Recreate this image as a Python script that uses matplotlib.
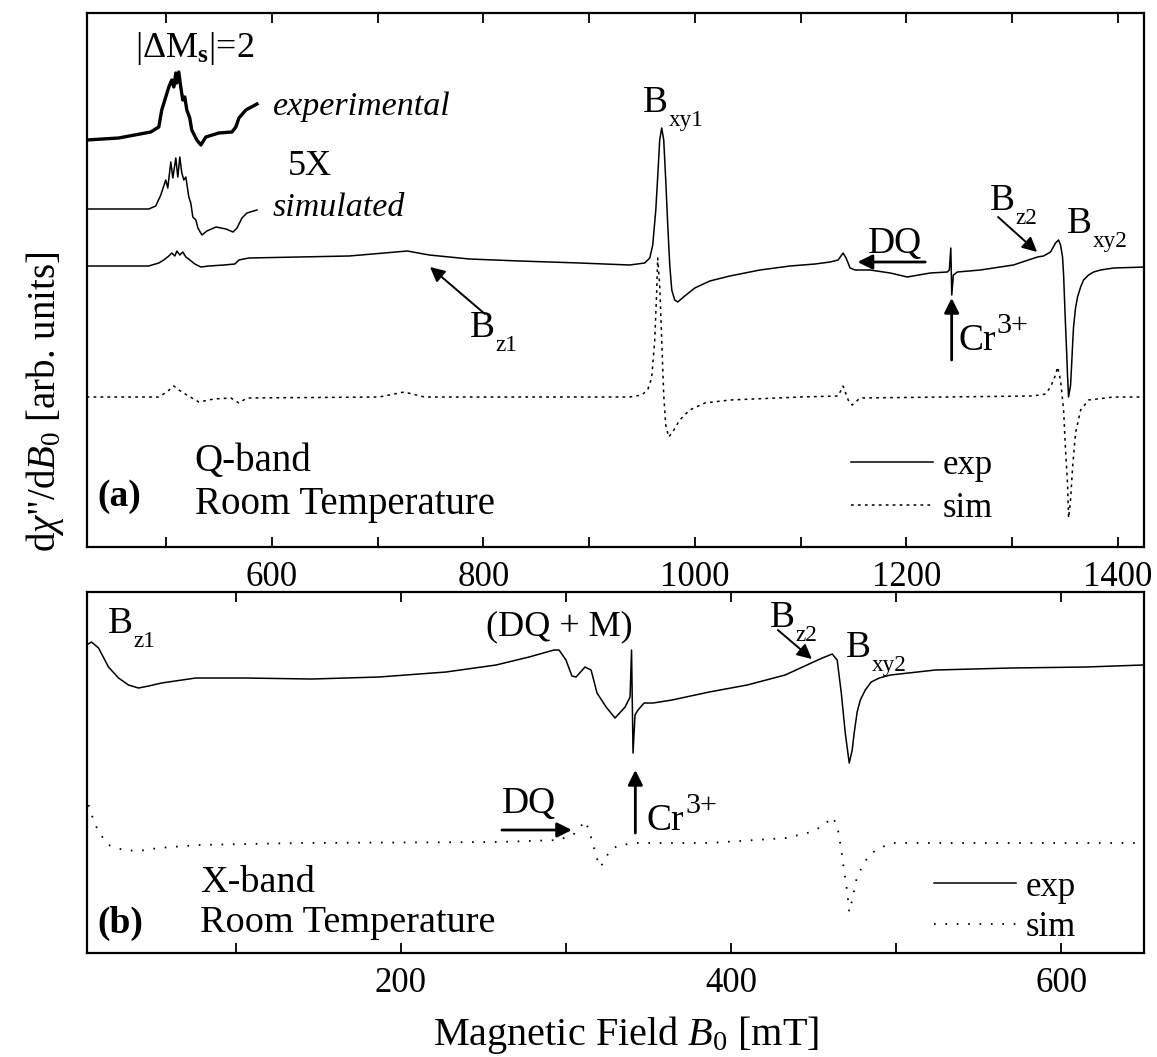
import matplotlib
matplotlib.use('Agg')
import matplotlib.pyplot as plt
from matplotlib.ticker import MultipleLocator

plt.rcParams['font.family'] = 'Liberation Serif'
plt.rcParams['mathtext.fontset'] = 'custom'
plt.rcParams['mathtext.rm'] = 'Liberation Serif'
plt.rcParams['mathtext.it'] = 'Liberation Serif:italic'
plt.rcParams['mathtext.bf'] = 'Liberation Serif:bold'
plt.rcParams['lines.scale_dashes'] = False

# ---- Q-band, |dMs|=2 half-field region (shown 5x) ----
half_exp_field = [424.6, 454.9, 485.3, 492.9, 495.7, 499.5, 502.4, 505.2, 507.1, 509.0,
                  509.9, 511.8, 513.7, 515.6, 517.5, 519.4, 522.2, 524.1, 528.9, 532.7,
                  537.4, 549.7, 562.1, 565.8, 568.7, 575.3, 585.8]
half_exp = [0.0, 0.02, 0.08, 0.13, 0.30, 0.43, 0.53, 0.60, 0.53, 0.67,
            0.57, 0.68, 0.53, 0.40, 0.43, 0.30, 0.22, 0.10, 0.00, -0.05,
            0.03, 0.07, 0.08, 0.13, 0.22, 0.30, 0.36]

half_sim_field = [424.6, 483.4, 490.0, 494.8, 497.6, 499.5, 501.4, 504.3, 506.2, 509.0,
                  510.9, 512.8, 514.7, 516.6, 518.5, 521.3, 523.2, 525.1, 528.0, 529.9,
                  533.7, 538.4, 547.0, 556.5, 563.1, 566.9, 571.6, 576.3, 585.8]
half_sim = [0.0, 0.0, 0.03, 0.14, 0.23, 0.29, 0.21, 0.47, 0.31, 0.51,
            0.32, 0.52, 0.36, 0.29, 0.32, 0.12, 0.06, -0.08, -0.11, -0.19,
            -0.26, -0.22, -0.18, -0.20, -0.23, -0.19, -0.09, -0.04, -0.01]

# ---- Q-band full spectrum ----
q_exp_field = [424.6, 483.4, 492.9, 497.6, 502.4, 505.2, 508.1, 510.0, 512.8, 515.6,
               518.5, 522.3, 527.0, 532.7, 540.3, 554.5, 564.9, 568.7, 578.2, 625.6,
               673.0, 706.2, 728.0, 748.8, 786.7, 834.1, 891.0, 938.4, 952.6, 957.4,
               960.2, 963.1, 965.0, 966.8, 968.7, 970.6, 972.5, 974.4, 976.3, 978.2,
               981.0, 983.8, 990.5, 1000.0, 1014.2, 1033.2, 1061.6, 1090.1, 1113.8, 1128.0,
               1135.6, 1140.3, 1143.1, 1146.9, 1151.7, 1165.9, 1184.9, 1201.0, 1222.8, 1238.9,
               1240.8, 1242.2, 1243.1, 1244.6, 1248.4, 1270.2, 1301.4, 1324.2, 1329.9, 1336.5,
               1341.3, 1344.1, 1346.0, 1347.9, 1348.9, 1349.8, 1350.7, 1351.7, 1352.6, 1353.6,
               1355.5, 1356.4, 1357.4, 1358.3, 1360.2, 1362.1, 1365.0, 1367.8, 1372.5, 1377.3,
               1383.9, 1396.2, 1426.6]
q_exp = [0.0, 0.0, 0.03, 0.06, 0.10, 0.13, 0.10, 0.15, 0.11, 0.14,
         0.09, 0.06, 0.02, -0.01, 0.0, 0.01, 0.02, 0.06, 0.08, 0.09,
         0.10, 0.13, 0.15, 0.11, 0.07, 0.05, 0.03, 0.01, 0.03, 0.08,
         0.21, 0.56, 0.91, 1.26, 1.38, 1.26, 0.86, 0.41, 0.01, -0.24,
         -0.34, -0.36, -0.30, -0.22, -0.15, -0.10, -0.04, 0.0, 0.02, 0.04,
         0.06, 0.13, 0.08, -0.02, -0.04, -0.04, -0.07, -0.11, -0.07, -0.06,
         -0.04, 0.18, -0.29, -0.09, -0.06, -0.04, 0.01, 0.09, 0.10, 0.14,
         0.23, 0.26, 0.21, 0.09, -0.09, -0.34, -0.59, -0.84, -1.09, -1.31,
         -1.19, -1.01, -0.79, -0.61, -0.42, -0.31, -0.21, -0.14, -0.09, -0.06,
         -0.04, -0.02, -0.01]

q_sim_field = [424.6, 492.9, 500.5, 507.1, 511.9, 519.4, 530.8, 545.0, 561.1, 568.7,
               576.3, 701.4, 725.1, 744.1, 938.4, 949.8, 955.4, 959.2, 962.1, 964.0,
               964.9, 966.8, 968.7, 970.6, 972.5, 975.3, 979.1, 985.7, 995.2, 1009.5,
               1033.2, 1099.5, 1135.6, 1140.3, 1145.1, 1148.8, 1156.4, 1317.6, 1327.0, 1331.8,
               1336.5, 1341.3, 1343.2, 1346.0, 1348.9, 1350.7, 1352.6, 1353.6, 1355.5, 1357.4,
               1360.2, 1365.0, 1372.5, 1396.2, 1426.6]
q_sim = [0.0, 0.0, 0.05, 0.11, 0.07, 0.02, -0.05, -0.02, -0.01, -0.06,
         -0.01, 0.0, 0.05, 0.0, 0.0, 0.02, 0.07, 0.19, 0.57, 1.07,
         1.39, 1.12, 0.57, 0.02, -0.28, -0.40, -0.35, -0.23, -0.13, -0.06,
         -0.03, 0.0, 0.01, 0.11, -0.03, -0.08, -0.01, 0.01, 0.02, 0.03,
         0.10, 0.22, 0.30, 0.17, -0.13, -0.53, -0.86, -1.21, -1.03, -0.70,
         -0.36, -0.13, -0.03, 0.0, 0.0]

# ---- X-band spectrum ----
x_exp_field = [9.7, 12.7, 17.0, 23.0, 29.1, 35.1, 41.2, 47.3, 55.1, 75.8,
               106.1, 146.1, 186.7, 227.3, 257.6, 277.6, 292.7, 295.8, 300.0, 303.6,
               306.1, 311.5, 315.2, 318.8, 324.3, 329.7, 335.8, 338.8, 339.7, 340.6,
               341.8, 343.6, 347.3, 352.7, 364.2, 386.7, 409.7, 432.7, 448.5, 455.2,
               461.2, 464.2, 466.7, 469.1, 471.5, 473.3, 474.5, 476.3, 478.2, 481.2,
               484.8, 489.7, 496.4, 523.6, 569.1, 614.6, 649.1]
x_exp = [0.33, 0.36, 0.30, 0.11, 0.0, -0.07, -0.10, -0.08, -0.05, 0.0,
         0.0, -0.01, 0.01, 0.06, 0.13, 0.21, 0.28, 0.28, 0.18, 0.02,
         0.01, 0.11, 0.08, -0.15, -0.29, -0.40, -0.29, -0.19, 0.28, -0.75,
         -0.37, -0.32, -0.25, -0.25, -0.22, -0.14, -0.07, 0.03, 0.15, 0.20,
         0.24, 0.18, -0.15, -0.55, -0.85, -0.72, -0.55, -0.34, -0.22, -0.12,
         -0.04, 0.0, 0.03, 0.08, 0.10, 0.11, 0.13]

x_sim_field = [10.9, 13.9, 17.0, 23.0, 32.1, 41.2, 53.3, 77.6, 138.2, 259.4,
               295.8, 304.8, 309.1, 311.5, 313.9, 317.0, 319.4, 320.6, 323.0, 326.0,
               330.9, 341.2, 386.7, 433.3, 448.5, 456.4, 461.2, 464.2, 466.7, 468.5,
               470.3, 471.5, 473.3, 475.8, 479.4, 483.6, 489.7, 498.2, 562.4, 649.1]
x_sim = [0.38, 0.23, 0.11, -0.02, -0.07, -0.08, -0.05, -0.02, 0.0, 0.01,
         0.03, 0.09, 0.17, 0.22, 0.13, -0.05, -0.19, -0.24, -0.19, -0.09,
         -0.03, 0.0, 0.0, 0.05, 0.11, 0.18, 0.26, 0.18, -0.07, -0.29,
         -0.49, -0.69, -0.57, -0.37, -0.23, -0.12, -0.05, 0.0, 0.0, 0.0]

# vertical offsets of the stacked traces
off_half_exp, off_half_sim = 4.07, 3.38
off_q_exp, off_q_sim = 2.81, 1.50
off_x_exp, off_x_sim = 2.75, 1.10

FS = 27
dash_q = (0, (2.0, 3.0))
dot_x = (0, (1.2, 7.0))


def script_label(ax, x, y, main, script, dy=-4, size=0.62):
    """Main text on a baseline with a lowered (or raised) smaller script after it."""
    t = ax.text(x, y, main, fontsize=FS, ha='left', va='baseline')
    ax.annotate(script, xy=(1, 0), xycoords=t, xytext=(0.5, dy),
                textcoords='offset points', fontsize=FS * size,
                ha='left', va='baseline')
    return t


def arrow(ax, head, tail, lw=1.6):
    ax.annotate('', xy=head, xytext=tail,
                arrowprops=dict(arrowstyle='-|>', color='black', lw=lw,
                                mutation_scale=22, shrinkA=0, shrinkB=0))


fig = plt.figure(figsize=(11.57, 10.57), dpi=100)
ax1 = fig.add_axes([0.0752, 0.4825, 0.9136, 0.5052])
ax2 = fig.add_axes([0.0752, 0.0984, 0.9136, 0.3415])

# ---------- (a) Q-band ----------
ax1.plot(half_exp_field, [v + off_half_exp for v in half_exp], color='black', lw=2.4)
ax1.plot(half_sim_field, [v + off_half_sim for v in half_sim], color='black', lw=1.1)
l_exp, = ax1.plot(q_exp_field, [v + off_q_exp for v in q_exp], color='black', lw=1.1,
                  label='exp')
l_sim, = ax1.plot(q_sim_field, [v + off_q_sim for v in q_sim], color='black', lw=1.1,
                  linestyle=dash_q, label='sim')
ax1.set_xlim(425, 1425)
ax1.set_ylim(0, 5.34)

ax1.text(0.102, 0.934, r'|$\Delta$M$_{\mathbf{s}}$|=2', transform=ax1.transAxes,
         fontsize=FS - 1, ha='center', va='center')
ax1.text(0.176, 0.824, 'experimental', style='italic', transform=ax1.transAxes,
         fontsize=FS - 2.5, va='center')
ax1.text(0.190, 0.712, '5X', transform=ax1.transAxes, fontsize=FS - 1, va='center')
ax1.text(0.176, 0.635, 'simulated', style='italic', transform=ax1.transAxes,
         fontsize=FS - 2.5, va='center')

script_label(ax1, 951, 4.35, 'B', 'xy1')
script_label(ax1, 787, 2.10, 'B', 'z1')
arrow(ax1, (749.5, 2.80), (801.5, 2.33), lw=1.4)
arrow(ax1, (1154, 2.85), (1218, 2.85), lw=2.0)
ax1.text(1189, 2.94, 'DQ', fontsize=FS, ha='center', va='baseline')
arrow(ax1, (1243, 2.49), (1243, 1.87), lw=2.0)
script_label(ax1, 1249, 1.97, 'Cr', '3+', dy=18, size=0.8)
arrow(ax1, (1323.8, 2.95), (1286.9, 3.30), lw=1.4)
script_label(ax1, 1279, 3.37, 'B', 'z2')
script_label(ax1, 1352, 3.14, 'B', 'xy2')

ax1.text(0.102, 0.160, 'Q-band', transform=ax1.transAxes, fontsize=FS + 1, va='center')
ax1.text(0.102, 0.079, 'Room Temperature', transform=ax1.transAxes, fontsize=FS + 1,
         va='center')
ax1.text(0.010, 0.094, '(a)', transform=ax1.transAxes, fontsize=FS, fontweight='bold',
         va='center')
ax1.legend(handles=[l_exp, l_sim], loc='lower right', bbox_to_anchor=(0.873, 0.009),
           frameon=False, fontsize=FS - 2, handlelength=2.35, handletextpad=0.28,
           labelspacing=0.27, borderpad=0)

ax1.xaxis.set_major_locator(MultipleLocator(200))
ax1.xaxis.set_minor_locator(MultipleLocator(100))

# ---------- (b) X-band ----------
m_exp, = ax2.plot(x_exp_field, [v + off_x_exp for v in x_exp], color='black', lw=1.1,
                  label='exp')
m_sim, = ax2.plot(x_sim_field, [v + off_x_sim for v in x_sim], color='black', lw=1.3,
                  linestyle=dot_x, label='sim')
ax2.set_xlim(10, 650)
ax2.set_ylim(0, 3.61)

script_label(ax2, 22.7, 3.20, 'B', 'z1')
ax2.text(296, 3.26, '(DQ + M)', fontsize=FS - 1, ha='center', va='center')
arrow(ax2, (448.9, 2.94), (428.3, 3.23), lw=1.4)
script_label(ax2, 423.4, 3.26, 'B', 'z2')
script_label(ax2, 469.4, 2.96, 'B', 'xy2')
arrow(ax2, (303.6, 1.23), (261.2, 1.23), lw=2.0)
ax2.text(261.2, 1.40, 'DQ', fontsize=FS, va='baseline')
arrow(ax2, (342, 1.83), (342, 1.20), lw=2.0)
script_label(ax2, 349, 1.23, 'Cr', '3+', dy=18, size=0.8)

ax2.text(0.107, 0.194, 'X-band', transform=ax2.transAxes, fontsize=FS + 0.5, va='center')
ax2.text(0.107, 0.083, 'Room Temperature', transform=ax2.transAxes, fontsize=FS + 0.5,
         va='center')
ax2.text(0.010, 0.083, '(b)', transform=ax2.transAxes, fontsize=FS, fontweight='bold',
         va='center')
ax2.legend(handles=[m_exp, m_sim], loc='lower right', bbox_to_anchor=(0.952, -0.023),
           frameon=False, fontsize=FS - 2, handlelength=2.35, handletextpad=0.28,
           labelspacing=0.21, borderpad=0)

ax2.xaxis.set_major_locator(MultipleLocator(200))
ax2.xaxis.set_minor_locator(MultipleLocator(100))
ax2.set_xlabel(r'Magnetic Field $B_0$ [mT]', fontsize=FS + 2)
ax2.xaxis.set_label_coords(0.51, -0.17)

for ax in (ax1, ax2):
    for s in ax.spines.values():
        s.set_linewidth(1.6)
    ax.set_yticks([])
    ax.tick_params(axis='x', which='both', direction='in', top=True, length=7,
                   width=1.3, labelsize=FS - 2, pad=10)

fig.text(0.039, 0.62, r'd$\chi$"/d$B_0$ [arb. units]', rotation=90, fontsize=FS + 1,
         ha='center', va='center')

fig.savefig('out.png', dpi=100)
